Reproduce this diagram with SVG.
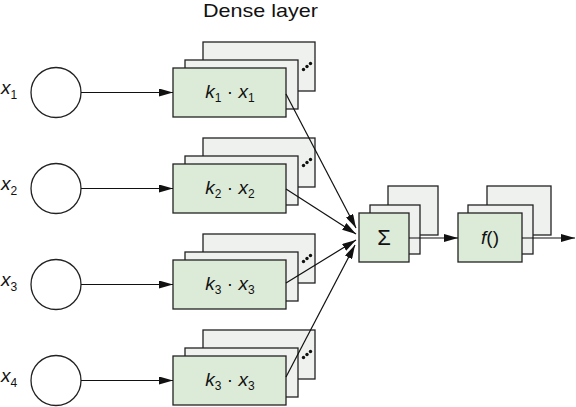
<svg xmlns="http://www.w3.org/2000/svg" width="576" height="407" viewBox="0 0 576 407">
<style>
text{font-family:"Liberation Sans",Arial,sans-serif;fill:#111}
.t{font-size:19px}
.s{font-size:12px}
.i{font-style:italic}
.front{fill:#dcebd8;stroke:#222;stroke-width:1.3}
.back{fill:#eff1ef;stroke:#222;stroke-width:1.3}
.circ{fill:#fff;stroke:#222;stroke-width:1.3}
.ln{stroke:#111;stroke-width:1.2;fill:none}
</style>
<defs>
<marker id="ah" viewBox="0 0 14 8" refX="14" refY="4" markerWidth="14" markerHeight="8" markerUnits="userSpaceOnUse" orient="auto">
<path d="M0,0 L14,4 L0,8 Z" fill="#111"/>
</marker>
</defs>
<text x="203" y="16.5" font-size="18.5" textLength="115" lengthAdjust="spacingAndGlyphs">Dense layer</text>

<g id="in1"><circle cx="56" cy="92.5" r="25" class="circ"/><text x="1" y="94" class="t i">x<tspan class="s" font-style="normal" dy="5">1</tspan></text></g>
<g id="in2"><circle cx="56" cy="188.5" r="25" class="circ"/><text x="1" y="190" class="t i">x<tspan class="s" font-style="normal" dy="5">2</tspan></text></g>
<g id="in3"><circle cx="56" cy="284.5" r="25" class="circ"/><text x="1" y="286" class="t i">x<tspan class="s" font-style="normal" dy="5">3</tspan></text></g>
<g id="in4"><circle cx="56" cy="380.5" r="25" class="circ"/><text x="1" y="382" class="t i">x<tspan class="s" font-style="normal" dy="5">4</tspan></text></g>

<g id="w1">
<rect x="203" y="42" width="112" height="49" class="back"/>
<rect x="185" y="60" width="113" height="49" class="back"/>
<rect x="173" y="68" width="113" height="49" class="front"/>
<g fill="#111"><circle cx="303.5" cy="69.5" r="1.7"/><circle cx="307" cy="66.5" r="1.7"/><circle cx="310.5" cy="63.5" r="1.7"/></g>
<text x="230" y="98" text-anchor="middle" class="t"><tspan class="i">k</tspan><tspan class="s" dy="4">1</tspan><tspan dy="-4"> · </tspan><tspan class="i">x</tspan><tspan class="s" dy="4">1</tspan></text>
</g>
<g id="w2">
<rect x="203" y="138" width="112" height="49" class="back"/>
<rect x="185" y="156" width="113" height="49" class="back"/>
<rect x="173" y="164" width="113" height="49" class="front"/>
<g fill="#111"><circle cx="303.5" cy="165.5" r="1.7"/><circle cx="307" cy="162.5" r="1.7"/><circle cx="310.5" cy="159.5" r="1.7"/></g>
<text x="230" y="194" text-anchor="middle" class="t"><tspan class="i">k</tspan><tspan class="s" dy="4">2</tspan><tspan dy="-4"> · </tspan><tspan class="i">x</tspan><tspan class="s" dy="4">2</tspan></text>
</g>
<g id="w3">
<rect x="203" y="234" width="112" height="49" class="back"/>
<rect x="185" y="252" width="113" height="49" class="back"/>
<rect x="173" y="260" width="113" height="49" class="front"/>
<g fill="#111"><circle cx="303.5" cy="261.5" r="1.7"/><circle cx="307" cy="258.5" r="1.7"/><circle cx="310.5" cy="255.5" r="1.7"/></g>
<text x="230" y="290" text-anchor="middle" class="t"><tspan class="i">k</tspan><tspan class="s" dy="4">3</tspan><tspan dy="-4"> · </tspan><tspan class="i">x</tspan><tspan class="s" dy="4">3</tspan></text>
</g>
<g id="w4">
<rect x="203" y="330" width="112" height="49" class="back"/>
<rect x="185" y="348" width="113" height="49" class="back"/>
<rect x="173" y="356" width="113" height="49" class="front"/>
<g fill="#111"><circle cx="303.5" cy="357.5" r="1.7"/><circle cx="307" cy="354.5" r="1.7"/><circle cx="310.5" cy="351.5" r="1.7"/></g>
<text x="230" y="386" text-anchor="middle" class="t"><tspan class="i">k</tspan><tspan class="s" dy="4">3</tspan><tspan dy="-4"> · </tspan><tspan class="i">x</tspan><tspan class="s" dy="4">3</tspan></text>
</g>

<g id="sum">
<rect x="388" y="186" width="50" height="49" class="back"/>
<rect x="370" y="205" width="50" height="49" class="back"/>
<rect x="359" y="213" width="50" height="49" class="front"/>
<text x="384" y="245" text-anchor="middle" font-size="22">Σ</text>
</g>
<g id="act">
<rect x="487" y="186" width="64" height="49" class="back"/>
<rect x="468" y="205" width="65" height="49" class="back"/>
<rect x="458" y="213" width="64" height="49" class="front"/>
<text x="490" y="244" text-anchor="middle" class="t"><tspan class="i">f</tspan>()</text>
</g>

<g id="connectors">
<line x1="81" y1="92.5" x2="173" y2="92.5" class="ln" marker-end="url(#ah)"/>
<line x1="81" y1="188.5" x2="173" y2="188.5" class="ln" marker-end="url(#ah)"/>
<line x1="81" y1="284.5" x2="173" y2="284.5" class="ln" marker-end="url(#ah)"/>
<line x1="81" y1="380.5" x2="173" y2="380.5" class="ln" marker-end="url(#ah)"/>
<line x1="286" y1="94" x2="356" y2="228" class="ln" marker-end="url(#ah)"/>
<line x1="286" y1="189" x2="356" y2="234" class="ln" marker-end="url(#ah)"/>
<line x1="286" y1="283" x2="356" y2="240" class="ln" marker-end="url(#ah)"/>
<line x1="286" y1="377" x2="355" y2="245" class="ln" marker-end="url(#ah)"/>
<line x1="409" y1="238" x2="458" y2="238" class="ln" marker-end="url(#ah)"/>
<line x1="522" y1="238" x2="575" y2="238" class="ln" marker-end="url(#ah)"/>
</g>
</svg>
